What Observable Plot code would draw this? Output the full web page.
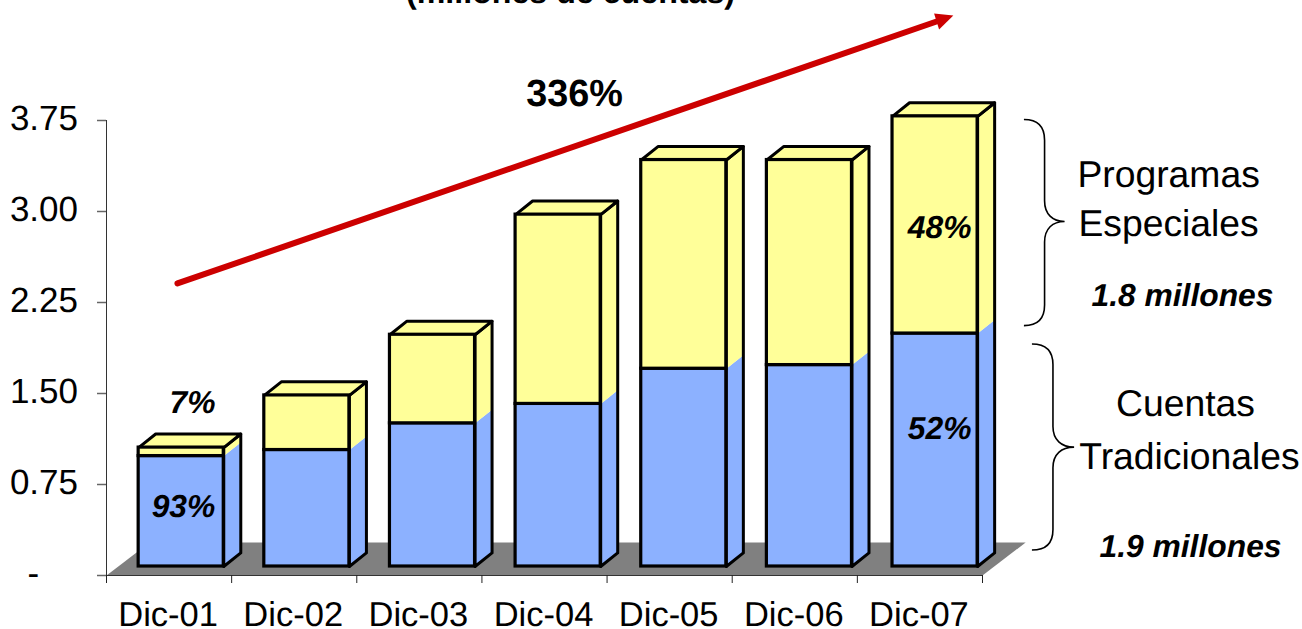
<!DOCTYPE html>
<html lang="es">
<head>
<meta charset="utf-8">
<title>Cuentas</title>
<style>
  html, body { margin: 0; padding: 0; background: #fff; overflow: hidden; }
  svg text { text-rendering: geometricPrecision; }
</style>
<script src="https://cdn.jsdelivr.net/npm/d3@7"></script>
<script src="https://cdn.jsdelivr.net/npm/@observablehq/plot@0.6"></script>
</head>
<body>
<div id="chart"></div>
<script>
// Millones de cuentas por cierre de año
const periods = ["Dic-01", "Dic-02", "Dic-03", "Dic-04", "Dic-05", "Dic-06", "Dic-07"];
const tradicionales = [0.91, 0.96, 1.18, 1.34, 1.63, 1.66, 1.92];
const especiales = [0.07, 0.45, 0.73, 1.56, 1.72, 1.69, 1.79];
const yTicks = [0, 0.75, 1.5, 2.25, 3, 3.75];

const BLUE = "#8CB1FF";
const YELLOW = "#FFFF99";
const INK = "#000";

// Extruded look: bar geometry in axis units
const barStart = 0.597, barStep = 1.004, barHalf = 0.34, depthX = 0.136, depthY = 0.112, lift = -9;

const stacks = periods.map((period, i) => ({
  period,
  x1: barStart + i * barStep - barHalf,
  x2: barStart + i * barStep + barHalf,
  blue: tradicionales[i],
  top: tradicionales[i] + especiales[i]
}));

// Closed polygons for the faces that recede from the front of each bar
const poly = (rows, pts) => rows.flatMap((r, i) => pts(r).map(([x, y]) => ({id: i, x, y})));
const sideBlue = poly(stacks, s => [[s.x2, 0], [s.x2 + depthX, depthY], [s.x2 + depthX, s.blue + depthY], [s.x2, s.blue]]);
const sideYellow = poly(stacks, s => [[s.x2, s.blue], [s.x2 + depthX, s.blue + depthY], [s.x2 + depthX, s.top + depthY], [s.x2, s.top]]);
const sideOutline = poly(stacks, s => [[s.x2, 0], [s.x2 + depthX, depthY], [s.x2 + depthX, s.top + depthY], [s.x2, s.top]]);
const topFace = poly(stacks, s => [[s.x1, s.top], [s.x2, s.top], [s.x2 + depthX, s.top + depthY], [s.x1 + depthX, s.top + depthY]]);

const face = (data, o) => Plot.line(data, {x: "x", y: "y", z: "id", curve: "linear-closed", dy: lift, strokeLinejoin: "round", ...o});

const floor = [[0, 0], [7, 0], [7.345, 0.272], [0.345, 0.272]].map(([x, y]) => ({x, y}));
const arrowShaft = [{x: 0.567, y: 2.407}, {x: 6.633, y: 4.566}];
const arrowHead = [{x: 6.767, y: 4.615}, {x: 6.613, y: 4.632}, {x: 6.653, y: 4.5}];

// Curly bracket drawn in axis units, opening toward the bars
function brace(x0, xSpine, xTip, yTop, yMid, yBottom) {
  return (index, {x, y}) => {
    const p = d3.path();
    const rx = xSpine - x0, ry = 0.17;
    p.moveTo(x(x0), y(yTop));
    p.bezierCurveTo(x(x0 + rx * 0.7), y(yTop), x(xSpine), y(yTop - ry * 0.35), x(xSpine), y(yTop - ry));
    p.lineTo(x(xSpine), y(yMid + ry));
    p.bezierCurveTo(x(xSpine), y(yMid + ry * 0.35), x(xSpine + (xTip - xSpine) * 0.4), y(yMid), x(xTip), y(yMid));
    p.bezierCurveTo(x(xSpine + (xTip - xSpine) * 0.4), y(yMid), x(xSpine), y(yMid - ry * 0.35), x(xSpine), y(yMid - ry));
    p.lineTo(x(xSpine), y(yBottom + ry));
    p.bezierCurveTo(x(xSpine), y(yBottom + ry * 0.35), x(x0 + rx * 0.7), y(yBottom), x(x0), y(yBottom));
    const el = document.createElementNS("http://www.w3.org/2000/svg", "path");
    el.setAttribute("d", p.toString());
    el.setAttribute("fill", "none");
    el.setAttribute("stroke", INK);
    el.setAttribute("stroke-width", 1.6);
    return el;
  };
}

const label = (text, x, y, o) => Plot.text([text], {x: () => x, y: () => y, text: d => d, fill: INK, ...o});
const boldItalic = {fontSize: 31.8, fontWeight: "bold", fontStyle: "italic"};

const chart = Plot.plot({
  width: 1302,
  height: 629,
  marginLeft: 106,
  marginRight: 320,
  marginTop: 120,
  marginBottom: 54,
  style: {fontFamily: "'Liberation Sans', Arial, sans-serif", background: "#fff"},
  x: {domain: [0, 7], axis: null},
  y: {domain: [0, 3.75], axis: null},
  marks: [
    Plot.line(floor, {x: "x", y: "y", curve: "linear-closed", fill: "#808080", stroke: "none"}),
    Plot.ruleY([0], {stroke: "#333", strokeWidth: 1}),
    Plot.ruleX([0], {stroke: "#333", strokeWidth: 1}),
    Plot.axisY({ticks: yTicks, tickSize: 9, tickFormat: () => "", stroke: "#666", strokeWidth: 1.5}),
    Plot.axisY({
      ticks: yTicks, tickSize: 0, tickPadding: 28.5, fontSize: 35, fill: INK, dy: -1.5,
      tickFormat: d => d === 0 ? "-\u00a0\u00a0\u00a0\u00a0" : d.toFixed(2)
    }),
    Plot.axisX({ticks: d3.range(0, 8), tickSize: 8, tickFormat: () => "", stroke: "#222"}),
    Plot.axisX({
      ticks: periods.map((_, i) => i + 0.5), tickSize: 0, tickPadding: 26, fontSize: 34.5, fill: INK, dx: -1,
      tickFormat: d => periods[Math.floor(d)]
    }),

    face(sideBlue, {fill: BLUE, stroke: "none"}),
    face(sideYellow, {fill: YELLOW, stroke: "none"}),
    face(sideOutline, {fill: "none", stroke: INK, strokeWidth: 3}),
    face(topFace, {fill: YELLOW, stroke: INK, strokeWidth: 3}),
    Plot.rect(stacks, {x1: "x1", x2: "x2", y1: 0, y2: "blue", dy: lift, fill: BLUE, stroke: INK, strokeWidth: 3.2}),
    Plot.rect(stacks, {x1: "x1", x2: "x2", y1: "blue", y2: "top", dy: lift, fill: YELLOW, stroke: INK, strokeWidth: 3.2}),

    Plot.line(arrowShaft, {x: "x", y: "y", stroke: "#CC0000", strokeWidth: 6}),
    Plot.line(arrowHead, {x: "x", y: "y", curve: "linear-closed", fill: "#CC0000", stroke: "none"}),

    brace(7.335, 7.5, 7.66, 3.754, 2.914, 2.055),
    brace(7.399, 7.567, 7.736, 1.904, 1.054, 0.206),

    label("(millones de cuentas)", 3.708, 4.805, {fontSize: 32.2, fontWeight: "bold"}),
    label("336%", 3.74, 3.973, {fontSize: 37.8, fontWeight: "bold"}),
    label("7%", 0.687, 1.426, boldItalic),
    label("93%", 0.615, 0.569, boldItalic),
    label("48%", 6.657, 2.868, boldItalic),
    label("52%", 6.657, 1.212, boldItalic),
    label("Programas", 8.487, 3.297, {fontSize: 37.3}),
    label("Especiales", 8.487, 2.893, {fontSize: 37.3}),
    label("1.8 millones", 8.598, 2.308, boldItalic),
    label("Cuentas", 8.622, 1.41, {fontSize: 37.3}),
    label("Tradicionales", 8.654, 0.973, {fontSize: 37.3}),
    label("1.9 millones", 8.662, 0.239, boldItalic)
  ]
});

document.getElementById("chart").append(chart);
</script>
</body>
</html>
